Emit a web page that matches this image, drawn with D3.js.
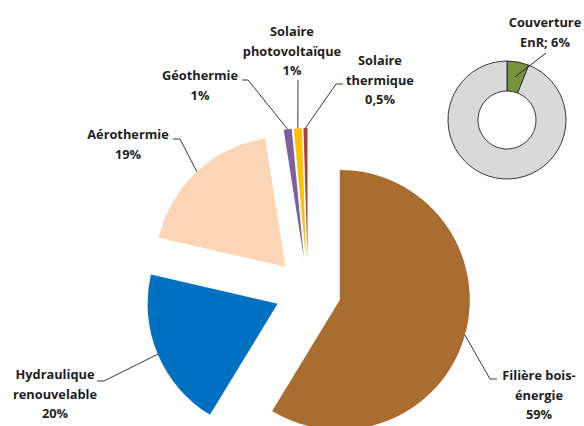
<!DOCTYPE html>
<html><head><meta charset="utf-8">
<script src="https://cdn.jsdelivr.net/npm/d3@7"></script>
<style>body{margin:0;background:#fff}svg{display:block}text{font-family:"Open Sans",Lato,sans-serif;font-weight:700;font-size:12.8px;fill:#1e1e1e}</style>
</head><body>
<script>
// ---- data ----
const categories = ["Filière bois-énergie","Hydraulique renouvelable","Aérothermie","Géothermie","Solaire photovoltaïque","Solaire thermique"];
const values = [59, 20, 19, 1, 1, 0.5];
const valueLabels = ["59%","20%","19%","1%","1%","0,5%"];
const labelLines = [["Filière bois-","énergie","59%"],["Hydraulique","renouvelable","20%"],["Aérothermie","19%"],["Géothermie","1%"],["Solaire","photovoltaïque","1%"],["Solaire","thermique","0,5%"]];
const colors = ["#A96D2F","#0070C0","#FBD5B5","#7D5E9E","#FFC000","#A8423E"];
const coverCategories = ["Couverture EnR","Autres"];
const coverValues = [6, 94];
const coverLabel = ["Couverture","EnR; 6%"];
const coverColors = ["#77933C","#D9D9D9"];

// ---- layout ----
const W = 584, H = 426;
const cx = 308, cy = 291, R = 130, explode = 33;
const dcx = 507, dcy = 120, dR = 59, dr = 29;
// label text centre x, first baseline y, elbow points of leader
const labelLayout = [
  {x:539, y:380, elbow:[[497,379],[490,379]]},
  {x:55,  y:379, elbow:[[97,381],[104,381]]},
  {x:128, y:139, elbow:[[173,139],[180,139]]},
  {x:200, y:80,  elbow:[[242,80],[248,80]]},
  {x:292, y:36,  elbow:[[298,80]]},
  {x:380, y:65,  elbow:[[343,84],[336,84]]}
];
const lineH = 19.5;

const svg = d3.select("body").append("svg").attr("width",W).attr("height",H);

const pie = d3.pie().sort(null).value(d=>d);
const arcs = pie(values);
const arc = d3.arc().innerRadius(0).outerRadius(R);

const g = svg.append("g");
arcs.forEach((a,i)=>{
  const mid = (a.startAngle+a.endAngle)/2;
  const ox = cx + explode*Math.sin(mid), oy = cy - explode*Math.cos(mid);
  g.append("path").attr("d",arc(a)).attr("transform",`translate(${ox},${oy})`).attr("fill",colors[i]);
  const ex = ox + R*Math.sin(mid), ey = oy - R*Math.cos(mid);
  const L = labelLayout[i];
  const pts = L.elbow.concat([[ex,ey]]);
  svg.append("path").attr("d",d3.line()(pts)).attr("fill","none").attr("stroke","#3a3a3a").attr("stroke-width",1);
  const t = svg.append("text").attr("text-anchor","middle");
  labelLines[i].forEach((s,k)=>t.append("tspan").attr("x",L.x).attr("y",L.y+k*lineH).text(s));
});

// donut
const darcs = pie(coverValues);
const darc = d3.arc().innerRadius(dr).outerRadius(dR);
const dg = svg.append("g").attr("transform",`translate(${dcx},${dcy})`);
darcs.forEach((a,i)=>{
  dg.append("path").attr("d",darc(a)).attr("fill",coverColors[i]).attr("stroke","#222").attr("stroke-width",0.9);
});
const dm = (darcs[0].startAngle+darcs[0].endAngle)/2, rm=(dR+dr)/2;
svg.append("path").attr("d",d3.line()([[546,53],[dcx+rm*Math.sin(dm), dcy-rm*Math.cos(dm)]])).attr("fill","none").attr("stroke","#222").attr("stroke-width",1);
const ct = svg.append("text").attr("text-anchor","middle");
coverLabel.forEach((s,k)=>ct.append("tspan").attr("x",545).attr("y",27+k*20).text(s));
</script>
</body></html>
